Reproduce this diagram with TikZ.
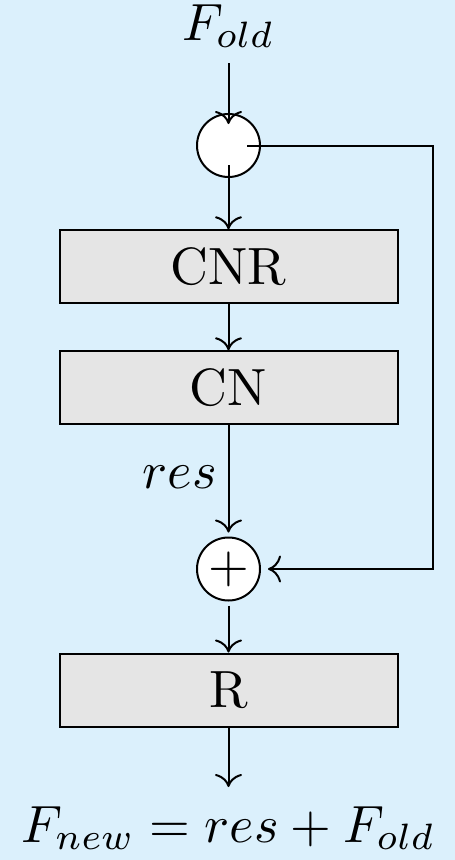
\documentclass[tikz,border=0pt]{standalone}
\usepackage{graphicx}
\usetikzlibrary{arrows.meta,calc}
\definecolor{bgblue}{RGB}{219,240,252}
\definecolor{boxgray}{RGB}{229,229,229}
\newcommand{\bigtxt}[1]{\scalebox{5.24}{#1}}
\begin{document}
\begin{tikzpicture}[x=1pt,y=-1pt,
  line width=2pt,
  arr/.style={-{Computer Modern Rightarrow[length=13pt,width=27pt]}},
  blk/.style={draw, fill=boxgray, minimum width=338pt, minimum height=73pt, inner sep=0pt},
  junc/.style={draw, fill=white, circle, minimum size=63pt, inner sep=0pt},
  lbl/.style={inner sep=0pt},
]
\fill[bgblue] (0,0) rectangle (455,860);
\useasboundingbox (0,0) rectangle (455,860);
\node[lbl, anchor=base] (fold) at (228.5,40) {\bigtxt{$F_{old}$}};
\node[junc] (split) at (228.5,145.5) {};
\node[blk] (cnr) at (228.5,266.8) {\bigtxt{CNR}};
\node[blk] (cn) at (228.5,387.8) {\bigtxt{CN}};
\node[junc] (plus) at (228.5,569) {\bigtxt{$+$}};
\node[blk] (r) at (228.5,690) {\bigtxt{R}};
\node[lbl, anchor=base] (fnew) at (228.5,842) {\bigtxt{$F_{new}=res+F_{old}$}};
\node[lbl, anchor=east] (reslbl) at (218,477) {\bigtxt{$res$}};
\coordinate (out) at (228.5,787);
\coordinate (corner) at (433,145.5);
\draw[arr] ($(fold.base)+(0,23)$) -- ($(split.north)+(0,11)$);
\draw[arr] ($(split.center)+(0,19.5)$) -- (cnr.north);
\draw[arr] (cnr.south) -- (cn.north);
\draw[arr, shorten >=4pt] (cn.south) -- (plus.north);
\draw[arr] ($(split.center)+(18.5,0)$) -- (corner) |- ([xshift=7pt]plus.east);
\draw[arr, shorten <=4pt] (plus.south) -- (r.north);
\draw[arr] (r.south) -- (out);
\end{tikzpicture}
\end{document}
